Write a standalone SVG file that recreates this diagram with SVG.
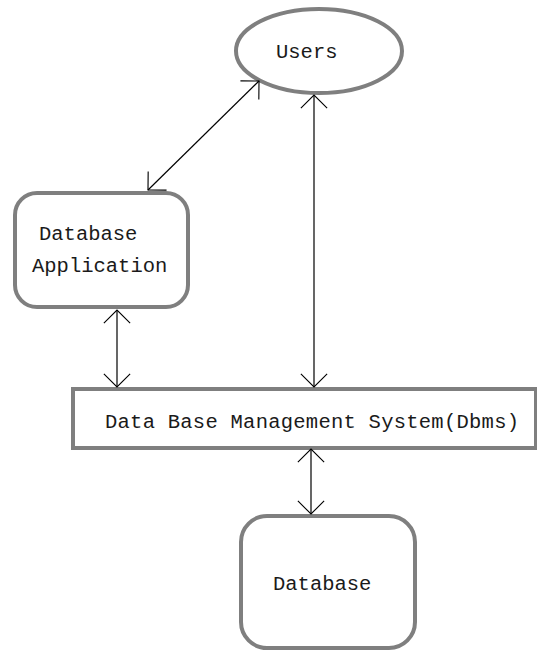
<svg xmlns="http://www.w3.org/2000/svg" width="537" height="652" viewBox="0 0 537 652">
  <style>
    .shape { fill: #ffffff; stroke: #7f7f7f; stroke-width: 4; }
    .label { font-family: "Liberation Mono", "Courier New", monospace; font-size: 20.5px; fill: #1a1a1a; }
    .link { fill: none; stroke: #000000; stroke-width: 1.2; marker-start: url(#open); marker-end: url(#open); }
  </style>
  <defs>
    <marker id="open" markerUnits="userSpaceOnUse" markerWidth="30" markerHeight="30" viewBox="-16 -16 32 32" refX="0" refY="0" orient="auto-start-reverse" overflow="visible">
      <path d="M -14 -14 L 0 0 L -14 14" fill="none" stroke="#000000" stroke-width="1.2"/>
    </marker>
  </defs>
  <rect width="537" height="652" fill="#ffffff"/>

  <g id="users">
    <ellipse class="shape" cx="319" cy="51" rx="83" ry="42"/>
    <text class="label" x="276" y="58">Users</text>
  </g>

  <g id="database-application">
    <rect class="shape" x="15" y="193" width="173" height="114" rx="22" ry="22"/>
    <text class="label" x="39" y="240">Database</text>
    <text class="label" x="32" y="272">Application</text>
  </g>

  <g id="dbms">
    <rect class="shape" x="73" y="389" width="463" height="59"/>
    <text class="label" x="105" y="428" textLength="414">Data Base Management System(Dbms)</text>
  </g>

  <g id="database">
    <rect class="shape" x="241" y="516" width="174" height="132" rx="26" ry="26"/>
    <text class="label" x="273" y="590">Database</text>
  </g>

  <g id="connectors">
    <line class="link" x1="148" y1="190" x2="259" y2="81"/>
    <line class="link" x1="314" y1="95" x2="314" y2="387"/>
    <line class="link" x1="117" y1="310" x2="117" y2="387"/>
    <line class="link" x1="311" y1="449" x2="311" y2="514"/>
  </g>
</svg>
